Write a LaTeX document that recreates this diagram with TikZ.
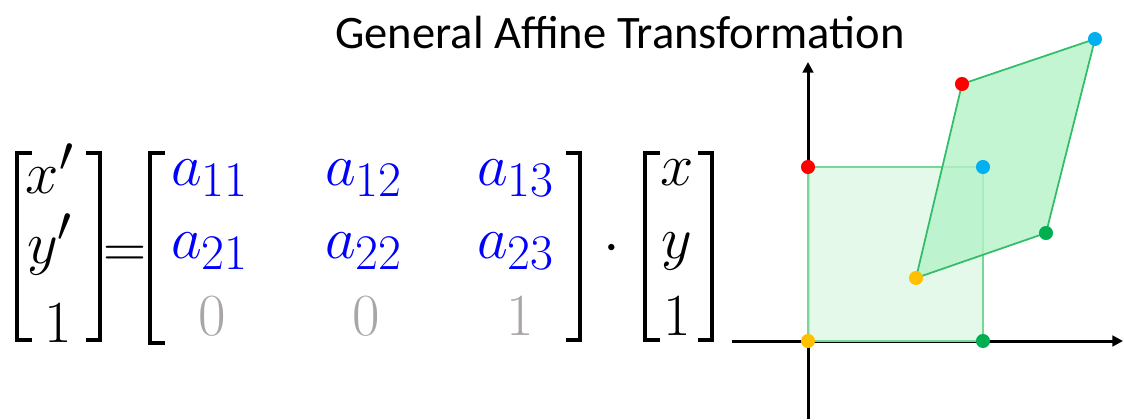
\documentclass[tikz,border=0pt]{standalone}
\usepackage{fontspec}
\newfontfamily\titlefont{Carlito}
\usetikzlibrary{arrows.meta}
\definecolor{ptred}{RGB}{255,0,0}
\definecolor{ptblue}{RGB}{0,176,240}
\definecolor{ptyellow}{RGB}{255,192,0}
\definecolor{ptgreen}{RGB}{0,176,80}
\definecolor{coef}{RGB}{0,0,255}
\definecolor{fixed}{RGB}{170,166,166}
\definecolor{sqfill}{RGB}{226,248,232}
\definecolor{sqline}{RGB}{120,214,150}
\definecolor{pgfill}{RGB}{180,242,200}
\definecolor{pgline}{RGB}{50,190,105}
\begin{document}
\begin{tikzpicture}[x=0.02cm, y=-0.02cm,
  entry/.style={anchor=base, inner sep=0pt, scale=1.367, font=\fontsize{24.88}{30}\selectfont},
  brk/.style={line width=2.2pt},
  axis/.style={line width=1.7pt, -{Triangle[length=6pt,width=6pt]}},
  dot/.style={circle, fill=#1, inner sep=0pt, minimum size=8pt}
]
\useasboundingbox (0,0) rectangle (1124,419);

% title
\node[font=\titlefont\fontsize{26.5}{31}\selectfont] (ttl) at (620,33) {General Affine Transformation};

% result vector
\draw[brk] (32,153) -- (17,153) -- (17,340) -- (32,340);
\draw[brk] (86,153) -- (100,153) -- (100,340) -- (86,340);
\node[entry] (xp) at (50,193) {$x'$};
\node[entry] (yp) at (50,263) {$y'$};
\node[entry] (one) at (58,342) {$1$};
\node[entry] (eq) at (125,267) {$=$};

% matrix
\draw[brk] (165,153) -- (150,153) -- (150,343) -- (165,343);
\draw[brk] (566,153) -- (580,153) -- (580,340) -- (566,340);
\node[entry, coef] (a11) at (210,185) {$a_{11}$};
\node[entry, coef] (a12) at (364,185) {$a_{12}$};
\node[entry, coef] (a13) at (516,185) {$a_{13}$};
\node[entry, coef] (a21) at (210,258) {$a_{21}$};
\node[entry, coef] (a22) at (364,258) {$a_{22}$};
\node[entry, coef] (a23) at (516,258) {$a_{23}$};
\node[entry, fixed] (m31) at (212,335) {$0$};
\node[entry, fixed] (m32) at (366,335) {$0$};
\node[entry, fixed] (m33) at (520,335) {$1$};
\node[entry] (mul) at (612,262) {$\cdot$};

% input vector
\draw[brk] (660,153) -- (645,153) -- (645,340) -- (660,340);
\draw[brk] (698,153) -- (712,153) -- (712,340) -- (698,340);
\node[entry] (xin) at (677,185) {$x$};
\node[entry] (yin) at (677,258) {$y$};
\node[entry] (oin) at (677,335) {$1$};

% corners
\coordinate (s1) at (808,341);
\coordinate (s2) at (983,341);
\coordinate (s3) at (983,167);
\coordinate (s4) at (808,167);
\coordinate (p1) at (916,278);
\coordinate (p2) at (1046,233);
\coordinate (p3) at (1095,39);
\coordinate (p4) at (962,84);
\coordinate (xl) at (732,341);
\coordinate (xr) at (1123,341);
\coordinate (yb) at (808,419);
\coordinate (yt) at (808,62);

% axes
\draw[axis] (xl) -- (xr);
\draw[axis] (yb) -- (yt);

% unit square and its image
\fill[sqfill, opacity=0.9] (s1) -- (s2) -- (s3) -- (s4) -- cycle;
\draw[sqline, line width=1pt] (s1) -- (s2) -- (s3) -- (s4) -- cycle;
\draw[pgline, line width=1pt, fill=pgfill, fill opacity=0.8] (p1) -- (p2) -- (p3) -- (p4) -- cycle;

% corner points
\node[dot=ptyellow] (d1) at (s1) {};
\node[dot=ptgreen] (d2) at (s2) {};
\node[dot=ptblue] (d3) at (s3) {};
\node[dot=ptred] (d4) at (s4) {};
\node[dot=ptyellow] (e1) at (p1) {};
\node[dot=ptgreen] (e2) at (p2) {};
\node[dot=ptblue] (e3) at (p3) {};
\node[dot=ptred] (e4) at (p4) {};
\end{tikzpicture}
\end{document}
